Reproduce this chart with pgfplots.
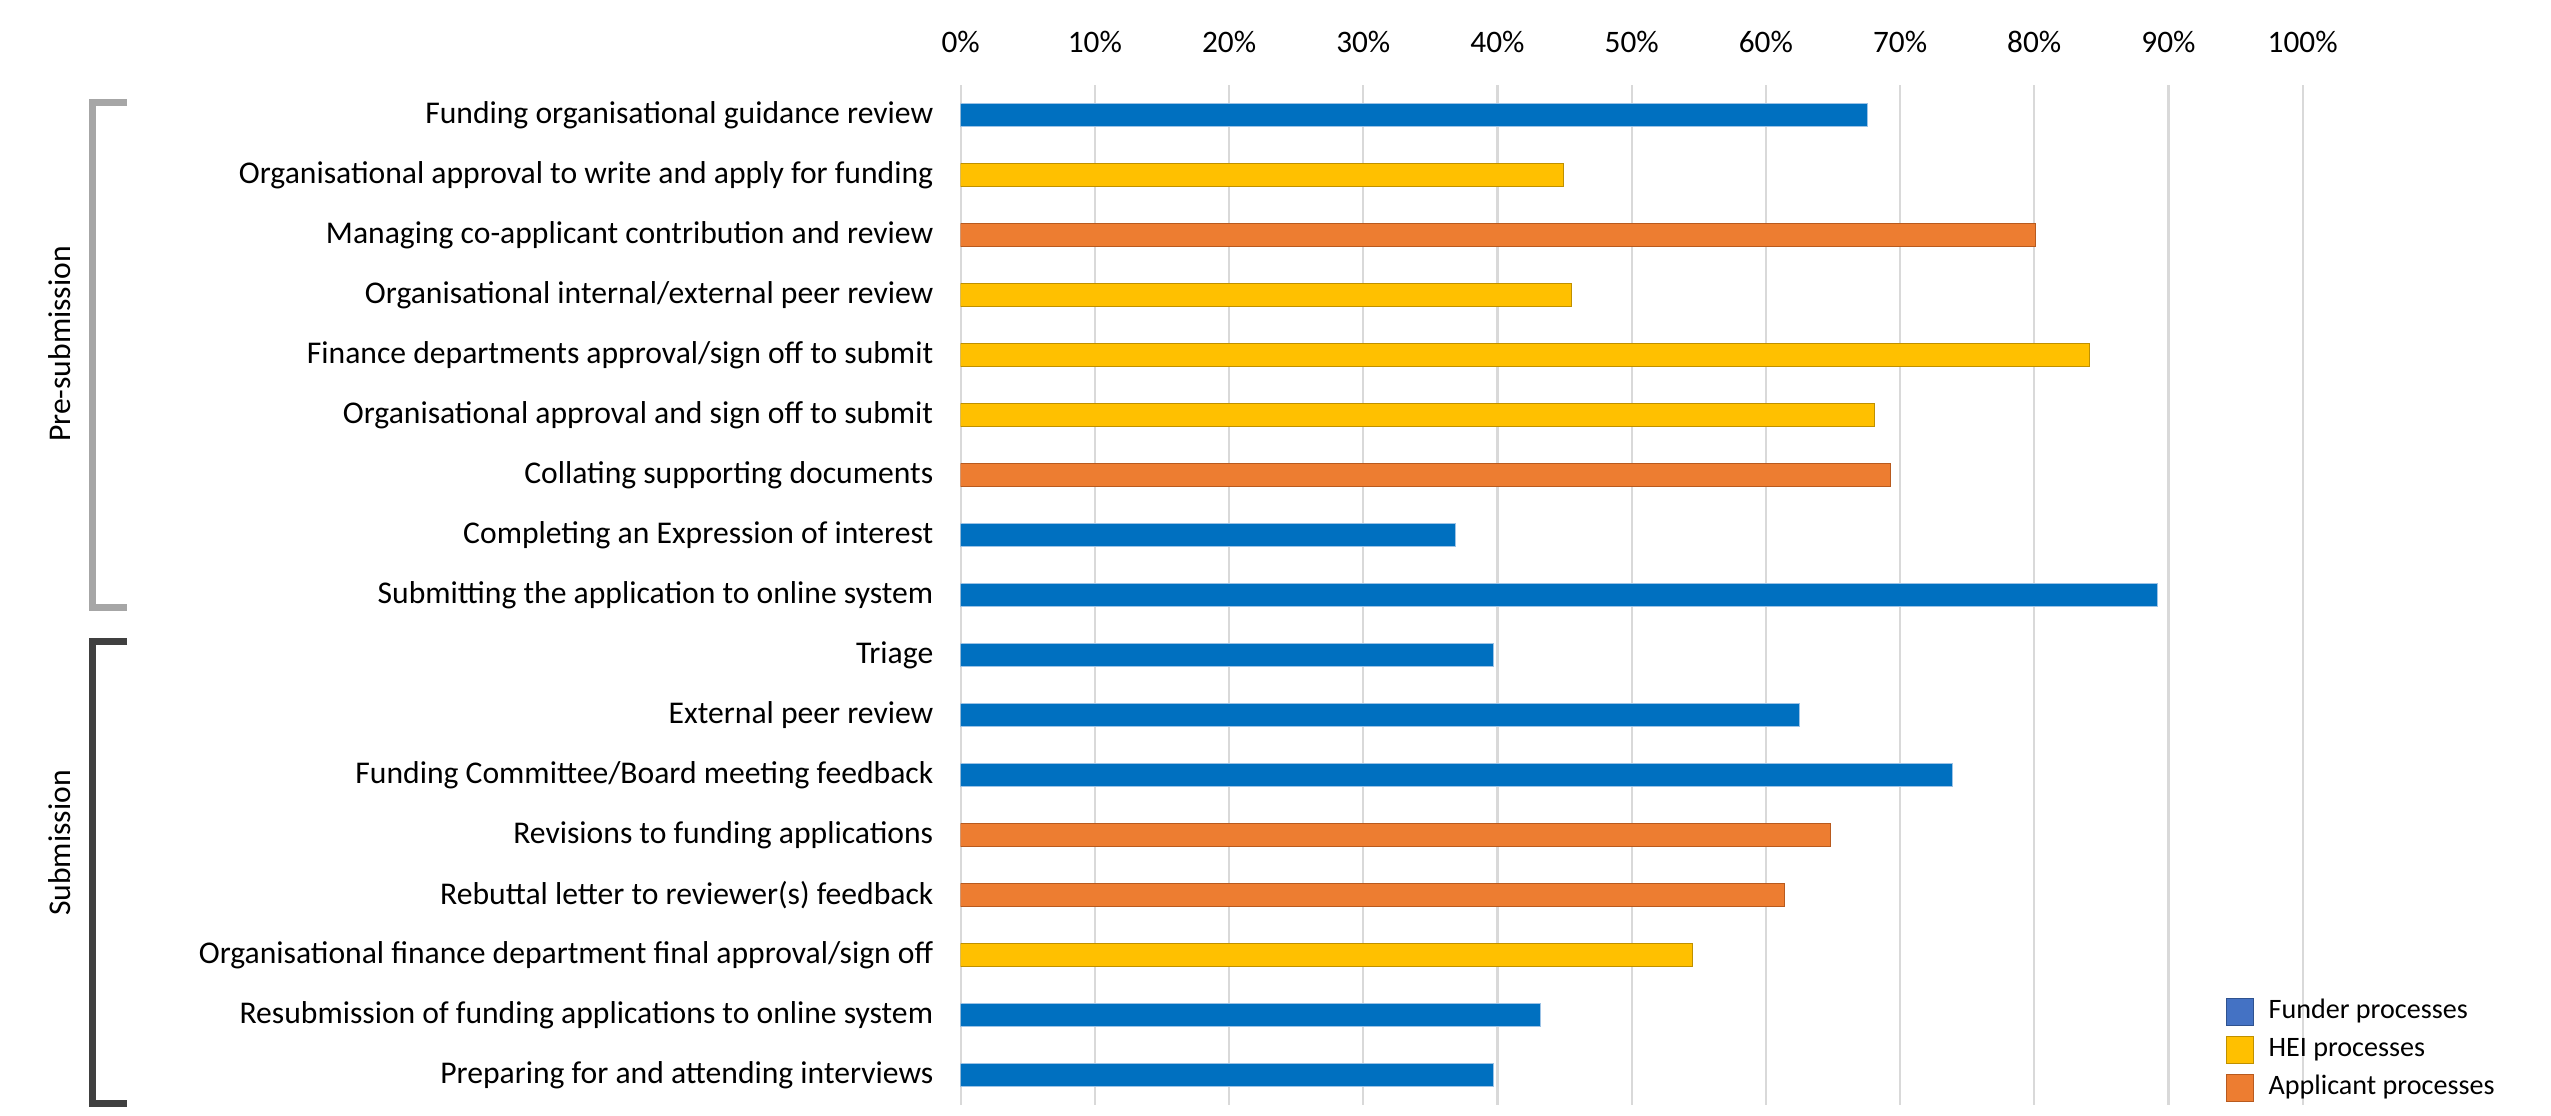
\documentclass[border=0pt]{standalone}
\usepackage{pgfplots}
\pgfplotsset{compat=1.18}
\usepackage{fontspec}
\setmainfont{Carlito}
\definecolor{funder}{HTML}{0070C0}
\definecolor{funderedge}{HTML}{9DC3E6}
\definecolor{hei}{HTML}{FFC000}
\definecolor{heiedge}{HTML}{BF9000}
\definecolor{appl}{HTML}{ED7D31}
\definecolor{appledge}{HTML}{B85A1E}
\definecolor{legfunder}{HTML}{4472C4}
\definecolor{legfunderedge}{HTML}{2F528F}
\definecolor{gridc}{HTML}{D9D9D9}
\definecolor{brgray}{HTML}{A6A6A6}
\definecolor{brdark}{HTML}{404040}
\begin{document}
\begin{tikzpicture}
\begin{scope}[x=0.1mm,y=-0.1mm]
\path[use as bounding box] (0,0) rectangle (2551,1116);
\draw[line width=0.7mm, brgray] (127,102) -- (92,102) -- (92,607) -- (127,607);
\draw[line width=0.7mm, brdark] (127,641) -- (92,641) -- (92,1103) -- (127,1103);
\node[rotate=90, font=\fontsize{9}{11}\selectfont, inner sep=0pt] at (60,344) {Pre-submission};
\node[rotate=90, font=\fontsize{9}{11}\selectfont, inner sep=0pt] at (60,843) {Submission};
\end{scope}
\begin{axis}[
  at={(96.07mm,-110.5mm)}, anchor=south west,
  scale only axis, width=134.2mm, height=102mm,
  xmin=0, xmax=100, ymin=-0.5, ymax=16.5, y dir=reverse,
  xbar, bar width=2.3mm,
  axis line style={draw=none}, tick style={draw=none},
  xmajorgrids=true, grid style={gridc, line width=0.6pt},
  xtick={0,10,...,100},
  xticklabels={0\%,10\%,20\%,30\%,40\%,50\%,60\%,70\%,80\%,90\%,100\%},
  xticklabel pos=upper,
  xticklabel style={font=\fontsize{8.9}{10.5}\selectfont, yshift=2mm},
  ytick={0,...,16},
  yticklabels={Funding organisational guidance review,
    Organisational approval to write and apply for funding,
    Managing co-applicant contribution and review,
    Organisational internal/external peer review,
    Finance departments approval/sign off to submit,
    Organisational approval and sign off to submit,
    Collating supporting documents,
    Completing an Expression of interest,
    Submitting the application to online system,
    {Triage\ },
    {External peer review\ },
    Funding Committee/Board meeting feedback,
    Revisions to funding applications,
    Rebuttal letter to reviewer(s) feedback,
    Organisational finance department final approval/sign off,
    Resubmission of funding applications to online system,
    Preparing for and attending interviews},
  yticklabel style={font=\fontsize{9}{11}\selectfont, xshift=0mm},
  legend image code/.code={\draw[#1] (0mm,-1.35mm) rectangle (2.7mm,1.35mm);},
  legend style={at={(0.942,0.106)}, anchor=north west, draw=none, fill=none,
    inner sep=0pt, row sep=1mm, font=\fontsize{8}{9.6}\selectfont,
    nodes={inner sep=0pt},
    /tikz/every odd column/.append style={column sep=1.5mm}},
  legend cell align=left,
]
\addplot[forget plot, bar shift=0pt, fill=funder, draw=funderedge, line width=0.3pt] coordinates {
(67.6,0) (36.9,7) (89.2,8) (39.7,9) (62.5,10) (73.9,11) (43.2,15) (39.7,16)};
\addplot[forget plot, bar shift=0pt, fill=hei, draw=heiedge, line width=0.3pt] coordinates {
(44.9,1) (45.5,3) (84.1,4) (68.1,5) (54.5,14)};
\addplot[forget plot, bar shift=0pt, fill=appl, draw=appledge, line width=0.3pt] coordinates {
(80.1,2) (69.3,6) (64.8,12) (61.4,13)};
\addlegendimage{fill=legfunder, draw=legfunderedge, line width=0.3pt}
\addlegendentry{Funder processes}
\addlegendimage{fill=hei, draw=heiedge, line width=0.3pt}
\addlegendentry{HEI processes}
\addlegendimage{fill=appl, draw=appledge, line width=0.3pt}
\addlegendentry{Applicant processes}
\end{axis}
\end{tikzpicture}
\end{document}
